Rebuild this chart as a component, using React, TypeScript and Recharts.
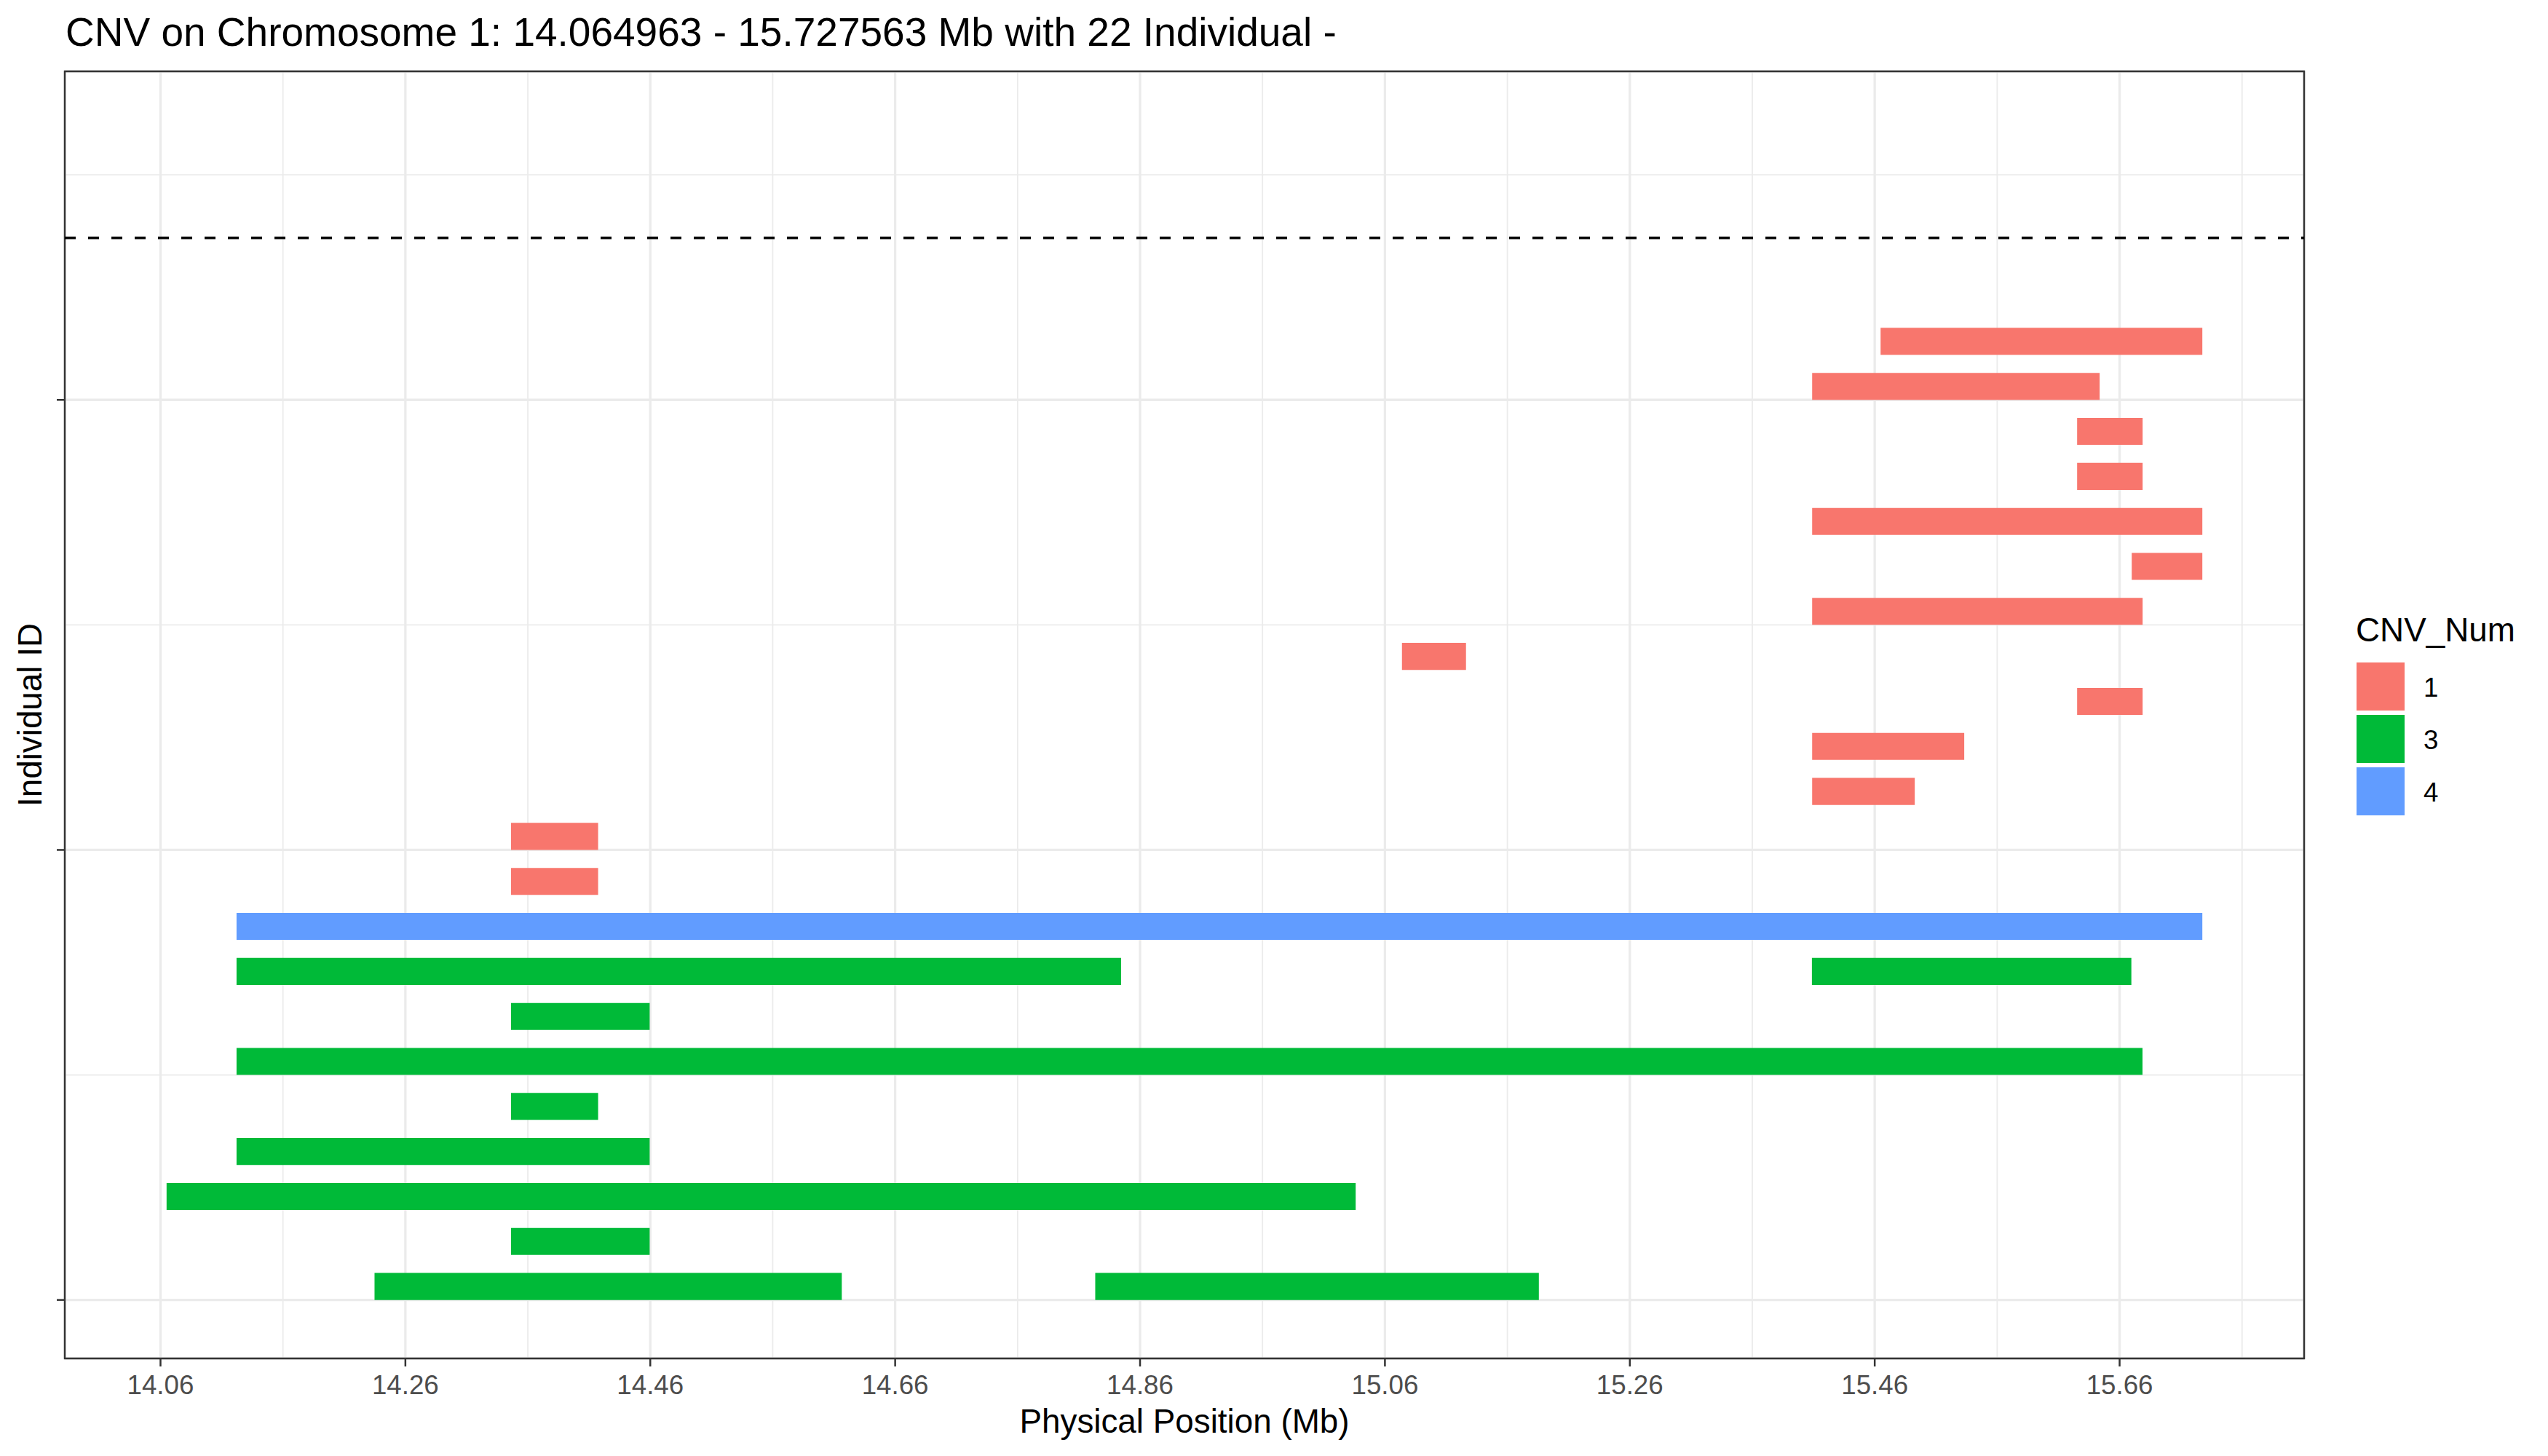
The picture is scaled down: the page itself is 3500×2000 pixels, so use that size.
import { CartesianGrid, ComposedChart, ReferenceArea, ReferenceLine, XAxis, YAxis } from "recharts";

// x axis (Mb)
const X_MIN = 14.064963;
const X_MAX = 15.727563;
const X_TICKS = [14.06, 14.26, 14.46, 14.66, 14.86, 15.06, 15.26, 15.46, 15.66];
const X_MINOR = [14.16, 14.36, 14.56, 14.76, 14.96, 15.16, 15.36, 15.56, 15.76];

// y axis (individual rows, bottom row = 0)
const Y_MIN = 0;
const Y_MAX = 26;
const Y_TICKS = [0, 10, 20];
const Y_MINOR = [5, 15, 25];
const BAR_HEIGHT = 0.6;
const BOUNDARY_Y = 23.6;

// CNV segments
const segRow = [21, 20, 19, 18, 17, 16, 15, 14, 13, 12, 11, 10, 9, 8, 7, 7, 6, 5, 4, 3, 2, 1, 0, 0];
const segStart = [
  15.4648, 15.4089, 15.6253, 15.6253, 15.4089, 15.6699, 15.4089, 15.0739, 15.6253, 15.4089, 15.4089, 14.3463,
  14.3463, 14.1221, 14.1221, 15.4087, 14.3463, 14.1221, 14.3463, 14.1221, 14.064963, 14.3463, 14.2348, 14.8234,
];
const segEnd = [
  15.727563, 15.6437, 15.6788, 15.6788, 15.727563, 15.727563, 15.6788, 15.1262, 15.6788, 15.5331, 15.4927, 14.4174,
  14.4174, 15.727563, 14.8445, 15.6696, 14.4595, 15.6787, 14.4174, 14.4595, 15.0361, 14.4595, 14.6164, 15.1857,
];
const segCnv = [1, 1, 1, 1, 1, 1, 1, 1, 1, 1, 1, 1, 1, 4, 3, 3, 3, 3, 3, 3, 3, 3, 3, 3];

const CNV_LEVELS = [1, 3, 4];
const CNV_COLORS: Record<number, string> = {
  1: "#F8766D",
  3: "#00BA38",
  4: "#619CFF",
};

const segments = segRow.map((row, i) => ({
  row,
  start: segStart[i],
  end: segEnd[i],
  cnv: segCnv[i],
}));

const xPad = (X_MAX - X_MIN) * 0.05;
const yPad = (Y_MAX - Y_MIN) * 0.05;
const xDomain: [number, number] = [X_MIN - xPad, X_MAX + xPad];
const yDomain: [number, number] = [Y_MIN - yPad, Y_MAX + yPad];

const FONT = "'Liberation Sans', Arial, sans-serif";
const GRID = "#EBEBEB";
const INK = "#333333";

export default function App() {
  return (
    <div style={{ position: "absolute", left: 0, top: 0, width: 3500, height: 2000, background: "#fff" }}>
      <ComposedChart
        width={3500}
        height={2000}
        data={segments}
        margin={{ top: 98, right: 335, bottom: 74, left: 29 }}
      >
        <XAxis
          type="number"
          dataKey="start"
          domain={xDomain}
          allowDataOverflow
          ticks={X_TICKS}
          interval={0}
          height={60}
          tickSize={11}
          tickMargin={12}
          axisLine={false}
          tickLine={{ stroke: INK, strokeWidth: 2.5 }}
          tick={{ fill: "#4D4D4D", fontSize: 36.7, fontFamily: FONT }}
          tickFormatter={(v: number) => v.toFixed(2)}
        />
        <YAxis
          type="number"
          dataKey="row"
          domain={yDomain}
          allowDataOverflow
          ticks={Y_TICKS}
          interval={0}
          width={60}
          tickSize={11}
          axisLine={false}
          tickLine={{ stroke: INK, strokeWidth: 2.5 }}
          tickFormatter={() => ""}
        />
        {/* hidden axes that only carry the minor grid breaks */}
        <XAxis xAxisId="minor" type="number" dataKey="start" domain={xDomain} allowDataOverflow ticks={X_MINOR} interval={0} hide />
        <YAxis yAxisId="minor" type="number" dataKey="row" domain={yDomain} allowDataOverflow ticks={Y_MINOR} interval={0} hide />
        <CartesianGrid xAxisId="minor" yAxisId="minor" stroke={GRID} strokeWidth={1.8} />
        <CartesianGrid stroke={GRID} strokeWidth={3.3} />
        {segments.map((s, i) => (
          <ReferenceArea
            key={i}
            x1={s.start}
            x2={s.end}
            y1={s.row}
            y2={s.row + BAR_HEIGHT}
            fill={CNV_COLORS[s.cnv]}
            fillOpacity={1}
            stroke="none"
            ifOverflow="visible"
          />
        ))}
        <ReferenceLine y={BOUNDARY_Y} stroke="#000" strokeWidth={3.5} strokeDasharray="15 17" ifOverflow="visible" />
        <ReferenceArea
          x1={xDomain[0]}
          x2={xDomain[1]}
          y1={yDomain[0]}
          y2={yDomain[1]}
          fill="none"
          stroke={INK}
          strokeWidth={2.4}
          ifOverflow="visible"
        />
      </ComposedChart>

      <svg
        width={3500}
        height={2000}
        style={{ position: "absolute", left: 0, top: 0, pointerEvents: "none" }}
        fontFamily={FONT}
      >
        <text x={90} y={63} fontSize={55} fill="#000">
          CNV on Chromosome 1: 14.064963 - 15.727563 Mb with 22 Individual -
        </text>
        <text x={1627} y={1968} fontSize={45.8} fill="#000" textAnchor="middle">
          Physical Position (Mb)
        </text>
        <text x={57} y={982} fontSize={45.8} fill="#000" textAnchor="middle" transform="rotate(-90 57 982)">
          Individual ID
        </text>

        <text x={3236} y={881} fontSize={45.8} fill="#000">
          CNV_Num
        </text>
        {CNV_LEVELS.map((lvl, i) => (
          <g key={lvl}>
            <rect x={3237} y={910 + i * 72} width={66} height={66} fill={CNV_COLORS[lvl]} />
            <text x={3329} y={956.5 + i * 72} fontSize={36.7} fill="#000">
              {lvl}
            </text>
          </g>
        ))}
      </svg>
    </div>
  );
}
